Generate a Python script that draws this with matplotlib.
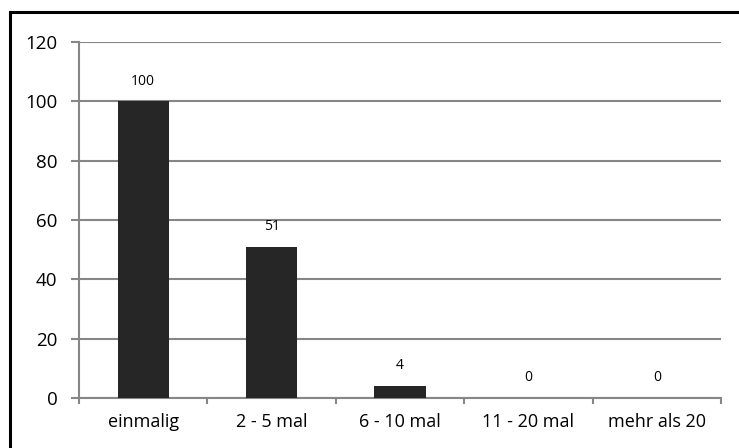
import matplotlib.pyplot as plt
from matplotlib.lines import Line2D
import numpy as np

categories = ["einmalig", "2 - 5 mal", "6 - 10 mal", "11 - 20 mal", "mehr als 20"]
values = [100, 51, 4, 0, 0]
y_ticks = [0, 20, 40, 60, 80, 100, 120]

plt.rcParams['font.family'] = ['Open Sans', 'DejaVu Sans']

fig = plt.figure(figsize=(7.39, 4.48), dpi=100)
ax = fig.add_axes([0.107, 0.1116, 0.8686, 0.7946])

grid_col = '#868686'
x = np.arange(len(categories))
bars = ax.bar(x, values, width=0.4, color='#262626', zorder=3)

for xi, v in zip(x, values):
    ax.annotate(str(v), xy=(xi, v), xytext=(0, 14.5), textcoords='offset points',
                ha='center', va='center', fontsize=10, color='black')

ax.set_xlim(-0.5, len(categories) - 0.5)
ax.set_ylim(0, 120)
ax.set_yticks(y_ticks)
ax.set_yticklabels([str(t) for t in y_ticks], fontsize=13.5)
ax.yaxis.grid(True, color=grid_col, lw=1.5, zorder=0)

# category ticks sit between the bars, labels at the centres
ax.set_xticks(np.arange(-0.5, len(categories)), minor=False)
ax.set_xticklabels([])
ax.set_xticks(x, minor=True)
ax.set_xticklabels(categories, minor=True, fontsize=13)
ax.tick_params(axis='x', which='major', direction='out', length=4, width=1.5, color=grid_col)
ax.tick_params(axis='x', which='minor', length=0, pad=11)
ax.tick_params(axis='y', direction='out', length=5.5, width=1.5, color=grid_col, pad=10)

for s in ['top', 'right']:
    ax.spines[s].set_visible(False)
ax.spines['left'].set_color(grid_col)
ax.spines['left'].set_linewidth(1.5)
ax.spines['bottom'].set_color(grid_col)
ax.spines['bottom'].set_linewidth(1.5)

# outer chart border (only top and left visible in the crop)
W, H = 739, 448
fig.add_artist(Line2D([9.5 / W, 9.5 / W], [0, 1 - 12 / H], color='black', lw=2.2,
                      transform=fig.transFigure, solid_capstyle='projecting'))
fig.add_artist(Line2D([9.5 / W, 1], [1 - 12 / H, 1 - 12 / H], color='black', lw=2.2,
                      transform=fig.transFigure, solid_capstyle='projecting'))

fig.savefig('out.png', dpi=100)
